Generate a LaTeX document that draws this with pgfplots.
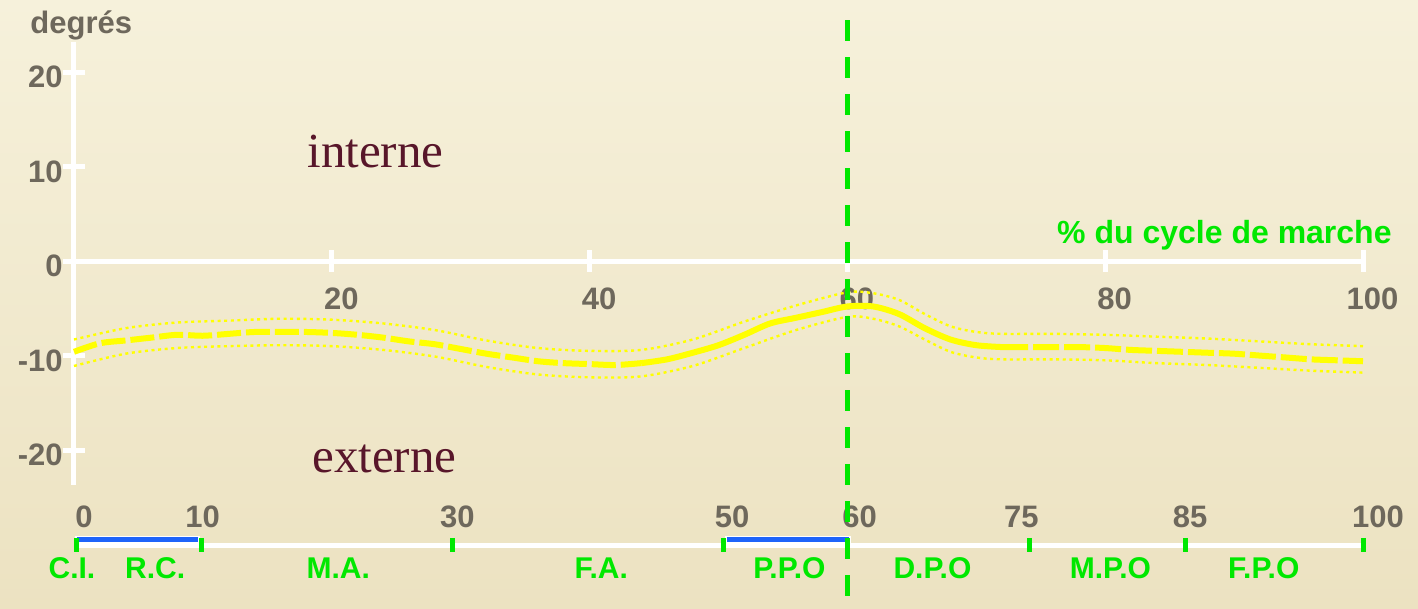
\documentclass[border=0pt]{standalone}
\usepackage{fontspec}
\setmainfont{Liberation Sans}
\newfontfamily\labelserif{Liberation Serif}
\usepackage{pgfplots}
\pgfplotsset{compat=1.18}
\usepackage{pgfplotstable}

\definecolor{parchTop}{RGB}{246,241,219}
\definecolor{parchBot}{RGB}{236,226,193}
\definecolor{labgray}{RGB}{110,104,92}
\definecolor{phasegreen}{RGB}{0,232,0}
\definecolor{curveyellow}{RGB}{255,255,0}
\definecolor{deepmaroon}{RGB}{88,22,42}
\definecolor{barblue}{RGB}{30,100,250}

% mean rotation of the hip (degrees) over the gait cycle (%)
\pgfplotstableread{
x    y
0   -9.6
2   -8.7
4   -8.4
6   -8.1
8   -7.8
10  -7.9
12  -7.7
14  -7.5
16  -7.5
18  -7.5
20  -7.6
22  -7.8
24  -8.1
26  -8.5
28  -8.8
30  -9.3
32  -9.8
34  -10.2
36  -10.6
38  -10.8
40  -10.9
42  -11.0
44  -10.8
46  -10.4
48  -9.7
50  -8.9
52  -7.8
54  -6.6
56  -6.0
58  -5.4
60  -4.8
62  -4.8
64  -5.6
66  -7.1
68  -8.3
70  -8.9
72  -9.1
74  -9.1
76  -9.1
78  -9.1
80  -9.2
82  -9.4
84  -9.5
86  -9.6
88  -9.7
90  -9.8
92  -10.0
94  -10.2
96  -10.4
98  -10.5
100 -10.6
}\meancurve

% upper limit of the normal band
\pgfplotstableread{
x    y
0   -8.3
4   -7.1
8   -6.5
12  -6.3
16  -6.1
20  -6.2
24  -6.6
28  -7.3
32  -8.4
36  -9.2
40  -9.5
44  -9.4
48  -8.3
52  -6.4
56  -4.7
60  -3.3
62  -3.4
64  -4.1
66  -5.6
68  -6.9
70  -7.5
72  -7.7
76  -7.7
80  -7.8
84  -8.0
88  -8.2
92  -8.5
96  -8.8
100 -9.0
}\upperband

% lower limit of the normal band
\pgfplotstableread{
x    y
0   -11.1
4   -9.8
8   -9.2
12  -9.0
16  -8.9
20  -9.0
24  -9.4
28  -10.1
32  -11.2
36  -12.0
40  -12.3
44  -12.2
48  -11.1
52  -9.2
56  -7.3
60  -5.9
62  -6.1
64  -6.9
66  -8.3
68  -9.6
70  -10.2
72  -10.4
76  -10.4
80  -10.5
84  -10.8
88  -11.0
92  -11.3
96  -11.6
100 -11.8
}\lowerband

\begin{document}
\begin{tikzpicture}[x=1pt,y=1pt]
\shade[top color=parchTop, bottom color=parchBot] (0,0) rectangle (709,304.5);
\path[use as bounding box] (0,0) rectangle (709,304.5);
\begin{axis}[
  at={(37pt,62pt)}, anchor=south west,
  scale only axis, width=644.5pt, height=221.5pt,
  xmin=0, xmax=100, ymin=-23.7, ymax=23.2,
  axis x line=middle, axis y line=left,
  axis line style={white, line width=2.5pt, -},
  every inner x axis line/.append style={-},
  every outer y axis line/.append style={-},
  hide obscured y ticks=false,
  tick align=center, major tick length=11pt,
  tick style={white, line width=2.5pt},
  xtick={20,40,60,80,100}, xticklabels={20,40,60,80,100},
  ytick={-20,-10,0,10,20}, yticklabels={-20,-10,0,10,20},
  xticklabel style={anchor=base, yshift=-18.5pt, xshift=4.75pt,
    font=\bfseries\fontsize{15.5}{16}\selectfont, text=labgray},
  yticklabel style={anchor=east, inner sep=0pt, xshift=0pt, yshift=-2.5pt,
    font=\bfseries\fontsize{15.5}{16}\selectfont, text=labgray},
  clip=false,
]
  % normal band
  \addplot[curveyellow, line width=1.2pt, dash pattern=on 1.5pt off 1.8pt, smooth] table[x=x,y=y] {\upperband};
  \addplot[curveyellow, line width=1.2pt, dash pattern=on 1.5pt off 1.8pt, smooth] table[x=x,y=y] {\lowerband};
  % mean curve: dashed, solid around push-off, dashed again
  \addplot[curveyellow, line width=3pt, dash pattern=on 12pt off 2.5pt, smooth,
    restrict x to domain=0:44] table[x=x,y=y] {\meancurve};
  \addplot[curveyellow, line width=3pt, smooth,
    restrict x to domain=44:72] table[x=x,y=y] {\meancurve};
  \addplot[curveyellow, line width=3pt, dash pattern=on 13pt off 2.5pt, smooth,
    restrict x to domain=72:100] table[x=x,y=y] {\meancurve};

  % axis titles and regions
  \node[anchor=base west, inner sep=0pt, text=labgray,
    font=\bfseries\fontsize{15.5}{16}\selectfont] at (axis cs:-3.41,24.14) {degrés};
  \node[anchor=base east, inner sep=0pt, text=phasegreen,
    font=\bfseries\fontsize{16}{17}\selectfont] at (axis cs:102.25,1.9) {\% du cycle de marche};
  \node[anchor=base west, inner sep=0pt, text=deepmaroon,
    font=\labelserif\fontsize{24.5}{26}\selectfont] at (axis cs:18.08,9.95) {interne};
  \node[anchor=base west, inner sep=0pt, text=deepmaroon,
    font=\labelserif\fontsize{24.5}{26}\selectfont] at (axis cs:18.46,-22.34) {externe};

  % phase scale of the gait cycle
  \draw[white, line width=2.5pt] (axis cs:0,-30.07) -- (axis cs:100,-30.07);
  \draw[white, line width=4pt] (axis cs:0.05,-29.55) -- (axis cs:9.8,-29.55);
  \draw[barblue, line width=2.5pt] (axis cs:0.23,-29.5) -- (axis cs:9.6,-29.5);
  \draw[white, line width=4pt] (axis cs:50.5,-29.55) -- (axis cs:60.25,-29.55);
  \draw[barblue, line width=2.5pt] (axis cs:50.66,-29.5) -- (axis cs:60.1,-29.5);
  \pgfplotsinvokeforeach{0.16,9.9,29.4,50.4,74.1,86.2,100}{
    \draw[phasegreen, line width=2.5pt] (axis cs:#1,-29.3) -- (axis cs:#1,-30.8);
  }
  \node[anchor=base, text=labgray, font=\bfseries\fontsize{15.5}{16}\selectfont] at (axis cs:0.78,-28.16) {0};
  \node[anchor=base, text=labgray, font=\bfseries\fontsize{15.5}{16}\selectfont] at (axis cs:9.97,-28.16) {10};
  \node[anchor=base, text=labgray, font=\bfseries\fontsize{15.5}{16}\selectfont] at (axis cs:29.75,-28.16) {30};
  \node[anchor=base, text=labgray, font=\bfseries\fontsize{15.5}{16}\selectfont] at (axis cs:51.05,-28.16) {50};
  \node[anchor=base, text=labgray, font=\bfseries\fontsize{15.5}{16}\selectfont] at (axis cs:60.94,-28.16) {60};
  \node[anchor=base, text=labgray, font=\bfseries\fontsize{15.5}{16}\selectfont] at (axis cs:73.5,-28.16) {75};
  \node[anchor=base, text=labgray, font=\bfseries\fontsize{15.5}{16}\selectfont] at (axis cs:86.58,-28.16) {85};
  \node[anchor=base, text=labgray, font=\bfseries\fontsize{15.5}{16}\selectfont] at (axis cs:101.16,-28.16) {100};

  \node[anchor=base, text=phasegreen, font=\bfseries\fontsize{15}{16}\selectfont] at (axis cs:-0.16,-33.56) {C.I.};
  \node[anchor=base, text=phasegreen, font=\bfseries\fontsize{15}{16}\selectfont] at (axis cs:6.3,-33.56) {R.C.};
  \node[anchor=base, text=phasegreen, font=\bfseries\fontsize{15}{16}\selectfont] at (axis cs:20.5,-33.56) {M.A.};
  \node[anchor=base, text=phasegreen, font=\bfseries\fontsize{15}{16}\selectfont] at (axis cs:40.9,-33.56) {F.A.};
  \node[anchor=base, text=phasegreen, font=\bfseries\fontsize{15}{16}\selectfont] at (axis cs:55.5,-33.56) {P.P.O};
  \node[anchor=base, text=phasegreen, font=\bfseries\fontsize{15}{16}\selectfont] at (axis cs:66.6,-33.56) {D.P.O};
  \node[anchor=base, text=phasegreen, font=\bfseries\fontsize{15}{16}\selectfont] at (axis cs:80.4,-33.56) {M.P.O};
  \node[anchor=base, text=phasegreen, font=\bfseries\fontsize{15}{16}\selectfont] at (axis cs:92.3,-33.56) {F.P.O};

  % end of stance at 60 % of the cycle
  \draw[phasegreen, line width=2.75pt, dash pattern=on 10.5pt off 8pt] (axis cs:60,25.5) -- (axis cs:60,-37);
\end{axis}
\end{tikzpicture}
\end{document}
